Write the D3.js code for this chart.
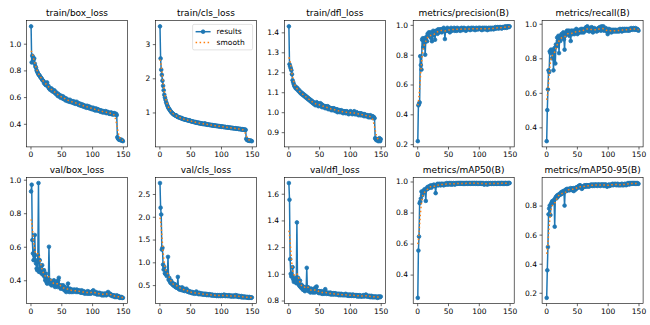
<!DOCTYPE html>
<html>
<head>
<meta charset="utf-8">
<script src="https://cdn.jsdelivr.net/npm/d3@7/dist/d3.min.js"></script>
<style>
  html, body { margin: 0; padding: 0; background: #fff; }
  svg { display: block; }
  text { font-family: "DejaVu Sans", sans-serif; fill: #000; }
</style>
</head>
<body>
<svg id="chart" width="650" height="325"></svg>
<script>
// Training run: 150 epochs, one row per epoch
const epochs = d3.range(1, 151);

const trainBoxLoss = [
  1.13, 0.86, 0.91, 0.90, 0.88, 0.89, 0.85, 0.83, 0.82, 0.80,
  0.79, 0.78, 0.77, 0.765, 0.76, 0.75, 0.745, 0.74, 0.73, 0.725,
  0.72, 0.705, 0.71, 0.695, 0.69, 0.70, 0.71, 0.68, 0.685, 0.665,
  0.67, 0.655, 0.66, 0.665, 0.645, 0.655, 0.64, 0.645, 0.65, 0.63,
  0.625, 0.635, 0.62, 0.61, 0.625, 0.605, 0.615, 0.61, 0.595, 0.61,
  0.60, 0.59, 0.605, 0.585, 0.595, 0.59, 0.575, 0.59, 0.58, 0.57,
  0.58, 0.575, 0.565, 0.58, 0.565, 0.57, 0.56, 0.565, 0.57, 0.555,
  0.555, 0.565, 0.55, 0.555, 0.565, 0.55, 0.545, 0.555, 0.54, 0.545,
  0.55, 0.535, 0.54, 0.545, 0.53, 0.54, 0.535, 0.525, 0.535, 0.53,
  0.52, 0.535, 0.525, 0.52, 0.53, 0.515, 0.525, 0.515, 0.51, 0.52,
  0.51, 0.52, 0.505, 0.51, 0.50, 0.515, 0.505, 0.50, 0.51, 0.50,
  0.505, 0.495, 0.50, 0.49, 0.50, 0.495, 0.485, 0.495, 0.49, 0.485,
  0.49, 0.495, 0.48, 0.485, 0.49, 0.48, 0.485, 0.475, 0.48, 0.475,
  0.485, 0.475, 0.47, 0.48, 0.47, 0.48, 0.475, 0.47, 0.475, 0.465,
  0.30, 0.29, 0.285, 0.28, 0.285, 0.28, 0.275, 0.28, 0.275, 0.27
];

const trainClsLoss = [
  3.52, 2.58, 2.25, 2.10, 1.93, 1.78, 1.65, 1.52, 1.44, 1.37,
  1.30, 1.25, 1.20, 1.16, 1.12, 1.10, 1.07, 1.04, 1.02, 1.00,
  0.98, 0.96, 0.95, 0.93, 0.92, 0.91, 0.92, 0.89, 0.88, 0.87,
  0.86, 0.86, 0.85, 0.84, 0.83, 0.84, 0.82, 0.81, 0.81, 0.80,
  0.80, 0.79, 0.79, 0.78, 0.78, 0.77, 0.77, 0.76, 0.77, 0.75,
  0.75, 0.74, 0.74, 0.73, 0.73, 0.72, 0.72, 0.71, 0.72, 0.70,
  0.70, 0.70, 0.69, 0.70, 0.68, 0.69, 0.68, 0.67, 0.68, 0.67,
  0.66, 0.67, 0.66, 0.68, 0.65, 0.66, 0.65, 0.64, 0.65, 0.64,
  0.64, 0.63, 0.64, 0.63, 0.62, 0.63, 0.62, 0.62, 0.61, 0.62,
  0.61, 0.61, 0.60, 0.61, 0.60, 0.60, 0.59, 0.60, 0.59, 0.59,
  0.58, 0.59, 0.58, 0.58, 0.57, 0.58, 0.57, 0.57, 0.56, 0.57,
  0.56, 0.56, 0.55, 0.56, 0.55, 0.55, 0.54, 0.55, 0.54, 0.54,
  0.54, 0.53, 0.54, 0.53, 0.53, 0.52, 0.53, 0.52, 0.52, 0.51,
  0.52, 0.51, 0.51, 0.50, 0.51, 0.50, 0.50, 0.49, 0.50, 0.49,
  0.23, 0.20, 0.19, 0.18, 0.18, 0.17, 0.18, 0.17, 0.17, 0.16
];

const trainDflLoss = [
  1.43, 1.24, 1.23, 1.22, 1.21, 1.19, 1.16, 1.15, 1.14, 1.13,
  1.13, 1.12, 1.125, 1.115, 1.12, 1.11, 1.105, 1.11, 1.10, 1.095,
  1.10, 1.09, 1.095, 1.085, 1.09, 1.08, 1.085, 1.075, 1.08, 1.07,
  1.075, 1.065, 1.07, 1.06, 1.065, 1.055, 1.06, 1.05, 1.055, 1.045,
  1.05, 1.04, 1.045, 1.035, 1.04, 1.05, 1.035, 1.045, 1.03, 1.04,
  1.035, 1.045, 1.03, 1.04, 1.025, 1.035, 1.03, 1.025, 1.03, 1.02,
  1.03, 1.025, 1.02, 1.03, 1.015, 1.025, 1.02, 1.015, 1.02, 1.01,
  1.02, 1.015, 1.01, 1.02, 1.01, 1.015, 1.005, 1.01, 1.015, 1.00,
  1.01, 1.005, 1.01, 1.00, 1.005, 1.01, 1.00, 1.005, 0.995, 1.005,
  1.00, 1.005, 0.995, 1.00, 1.005, 0.995, 1.00, 0.99, 1.00, 0.995,
  1.005, 0.995, 1.00, 0.99, 1.00, 0.995, 1.005, 0.99, 0.995, 0.99,
  1.00, 0.99, 0.995, 0.985, 0.995, 0.99, 0.985, 0.995, 0.985, 0.99,
  0.985, 0.99, 0.98, 0.99, 0.985, 0.98, 0.985, 0.98, 0.985, 0.975,
  0.98, 0.975, 0.985, 0.975, 0.98, 0.975, 0.98, 0.97, 0.975, 0.97,
  0.87, 0.865, 0.86, 0.865, 0.86, 0.855, 0.86, 0.87, 0.855, 0.865
];

const precision = [
  0.22, 0.46, 0.47, 0.48, 0.79, 0.73, 0.70, 0.90, 0.91, 0.85,
  0.91, 0.88, 0.80, 0.90, 0.92, 0.89, 0.94, 0.93, 0.95, 0.94,
  0.92, 0.95, 0.91, 0.89, 0.94, 0.96, 0.93, 0.95, 0.90, 0.96,
  0.95, 0.96, 0.94, 0.97, 0.96, 0.95, 0.97, 0.96, 0.97, 0.95,
  0.97, 0.96, 0.98, 0.97, 0.905, 0.96, 0.97, 0.96, 0.98, 0.97,
  0.96, 0.97, 0.95, 0.97, 0.98, 0.96, 0.97, 0.965, 0.97, 0.98,
  0.96, 0.975, 0.97, 0.96, 0.98, 0.97, 0.965, 0.975, 0.97, 0.96,
  0.975, 0.98, 0.97, 0.965, 0.975, 0.98, 0.97, 0.975, 0.96, 0.97,
  0.975, 0.97, 0.98, 0.975, 0.97, 0.965, 0.975, 0.98, 0.97, 0.975,
  0.98, 0.97, 0.975, 0.965, 0.975, 0.98, 0.97, 0.975, 0.97, 0.98,
  0.975, 0.98, 0.97, 0.975, 0.965, 0.98, 0.975, 0.97, 0.98, 0.975,
  0.97, 0.98, 0.975, 0.965, 0.975, 0.98, 0.97, 0.975, 0.98, 0.97,
  0.975, 0.98, 0.975, 0.97, 0.98, 0.975, 0.985, 0.975, 0.98, 0.985,
  0.98, 0.975, 0.985, 0.98, 0.985, 0.98, 0.975, 0.985, 0.98, 0.985,
  0.985, 0.98, 0.99, 0.985, 0.98, 0.99, 0.985, 0.99, 0.985, 0.99
];

const recall = [
  0.32, 0.50, 0.62, 0.73, 0.72, 0.84, 0.83, 0.85, 0.84, 0.80,
  0.85, 0.73, 0.84, 0.86, 0.77, 0.88, 0.87, 0.92, 0.90, 0.93,
  0.83, 0.92, 0.90, 0.93, 0.94, 0.92, 0.93, 0.95, 0.91, 0.85,
  0.93, 0.95, 0.94, 0.96, 0.94, 0.95, 0.96, 0.93, 0.95, 0.90,
  0.96, 0.95, 0.94, 0.96, 0.95, 0.94, 0.96, 0.95, 0.97, 0.95,
  0.94, 0.96, 0.95, 0.965, 0.95, 0.96, 0.97, 0.95, 0.96, 0.97,
  0.95, 0.96, 0.97, 0.96, 0.98, 0.975, 0.985, 0.96, 0.97, 0.955,
  0.97, 0.975, 0.96, 0.98, 0.965, 0.95, 0.97, 0.975, 0.96, 0.97,
  0.965, 0.955, 0.97, 0.96, 0.975, 0.965, 0.98, 0.97, 0.96, 0.985,
  0.97, 0.975, 0.985, 0.96, 0.97, 0.965, 0.975, 0.96, 0.955, 0.94,
  0.96, 0.97, 0.955, 0.965, 0.96, 0.95, 0.965, 0.96, 0.955, 0.965,
  0.96, 0.955, 0.965, 0.96, 0.955, 0.96, 0.965, 0.955, 0.96, 0.97,
  0.96, 0.965, 0.955, 0.97, 0.96, 0.965, 0.97, 0.96, 0.965, 0.97,
  0.965, 0.96, 0.97, 0.965, 0.96, 0.97, 0.965, 0.975, 0.97, 0.965,
  0.97, 0.975, 0.97, 0.965, 0.975, 0.97, 0.965, 0.97, 0.965, 0.96
];

const valBoxLoss = [
  0.93, 0.97, 0.64, 0.56, 0.52, 0.55, 0.67, 0.52, 0.50, 0.47,
  0.46, 0.55, 0.98, 0.45, 0.52, 0.47, 0.45, 0.44, 0.49, 0.45,
  0.43, 0.46, 0.42, 0.40, 0.44, 0.39, 0.38, 0.41, 0.39, 0.60,
  0.38, 0.40, 0.39, 0.37, 0.39, 0.38, 0.37, 0.40, 0.38, 0.36,
  0.38, 0.37, 0.39, 0.36, 0.40, 0.415, 0.37, 0.36, 0.35, 0.37,
  0.36, 0.35, 0.37, 0.35, 0.34, 0.36, 0.35, 0.33, 0.34, 0.35,
  0.38, 0.34, 0.33, 0.35, 0.34, 0.33, 0.345, 0.34, 0.33, 0.34,
  0.345, 0.335, 0.34, 0.33, 0.345, 0.34, 0.33, 0.335, 0.34, 0.33,
  0.335, 0.325, 0.34, 0.33, 0.325, 0.335, 0.33, 0.32, 0.33, 0.325,
  0.33, 0.32, 0.335, 0.325, 0.32, 0.33, 0.325, 0.32, 0.33, 0.325,
  0.335, 0.34, 0.33, 0.32, 0.325, 0.33, 0.32, 0.315, 0.325, 0.32,
  0.315, 0.325, 0.32, 0.315, 0.32, 0.31, 0.32, 0.315, 0.31, 0.32,
  0.315, 0.32, 0.31, 0.315, 0.325, 0.33, 0.32, 0.315, 0.32, 0.31,
  0.315, 0.31, 0.305, 0.31, 0.305, 0.31, 0.30, 0.305, 0.30, 0.31,
  0.305, 0.30, 0.305, 0.30, 0.295, 0.30, 0.295, 0.30, 0.295, 0.295
];

const valClsLoss = [
  2.74, 2.20, 2.05, 1.28, 1.32, 0.95, 0.84, 0.90, 0.76, 0.74,
  0.80, 0.70, 0.72, 1.12, 0.62, 0.66, 0.58, 0.55, 0.60, 0.53,
  0.55, 0.50, 0.53, 0.48, 0.52, 0.46, 0.45, 0.49, 0.44, 0.68,
  0.42, 0.45, 0.40, 0.44, 0.41, 0.39, 0.45, 0.40, 0.38, 0.42,
  0.37, 0.40, 0.38, 0.42, 0.36, 0.38, 0.35, 0.37, 0.34, 0.36,
  0.34, 0.33, 0.35, 0.32, 0.34, 0.33, 0.31, 0.33, 0.32, 0.36,
  0.34, 0.31, 0.32, 0.30, 0.33, 0.31, 0.30, 0.32, 0.30, 0.31,
  0.29, 0.31, 0.30, 0.29, 0.31, 0.30, 0.28, 0.30, 0.29, 0.28,
  0.30, 0.29, 0.28, 0.29, 0.27, 0.29, 0.28, 0.27, 0.28, 0.27,
  0.28, 0.27, 0.26, 0.28, 0.27, 0.26, 0.28, 0.27, 0.26, 0.27,
  0.28, 0.26, 0.27, 0.28, 0.29, 0.27, 0.26, 0.28, 0.27, 0.26,
  0.27, 0.26, 0.28, 0.26, 0.27, 0.25, 0.26, 0.27, 0.25, 0.26,
  0.27, 0.25, 0.26, 0.28, 0.26, 0.25, 0.27, 0.25, 0.24, 0.26,
  0.25, 0.24, 0.26, 0.23, 0.25, 0.24, 0.23, 0.25, 0.24, 0.23,
  0.24, 0.23, 0.24, 0.22, 0.23, 0.24, 0.22, 0.23, 0.22, 0.23
];

const valDflLoss = [
  1.68, 1.555, 1.11, 1.00, 0.98, 0.99, 1.05, 0.96, 0.94, 0.95,
  0.97, 0.94, 0.93, 1.385, 0.93, 0.97, 0.92, 0.91, 0.95, 0.90,
  0.92, 0.89, 0.91, 0.88, 0.90, 0.89, 0.87, 0.90, 0.88, 1.045,
  0.88, 0.90, 0.87, 0.89, 0.88, 0.86, 0.89, 0.87, 0.88, 0.86,
  0.87, 0.89, 0.86, 0.88, 0.90, 0.905, 0.87, 0.86, 0.87, 0.855,
  0.87, 0.86, 0.855, 0.87, 0.85, 0.86, 0.865, 0.85, 0.86, 0.885,
  0.86, 0.85, 0.855, 0.86, 0.85, 0.855, 0.85, 0.86, 0.845, 0.855,
  0.85, 0.845, 0.855, 0.85, 0.845, 0.855, 0.85, 0.845, 0.85, 0.845,
  0.85, 0.84, 0.85, 0.845, 0.84, 0.85, 0.845, 0.84, 0.845, 0.84,
  0.845, 0.84, 0.85, 0.84, 0.845, 0.84, 0.835, 0.845, 0.84, 0.835,
  0.845, 0.84, 0.835, 0.84, 0.845, 0.835, 0.84, 0.835, 0.84, 0.835,
  0.84, 0.83, 0.84, 0.835, 0.83, 0.84, 0.835, 0.83, 0.835, 0.83,
  0.835, 0.84, 0.83, 0.835, 0.84, 0.845, 0.83, 0.835, 0.83, 0.835,
  0.83, 0.835, 0.825, 0.83, 0.835, 0.825, 0.83, 0.825, 0.83, 0.825,
  0.83, 0.825, 0.83, 0.825, 0.82, 0.83, 0.825, 0.83, 0.825, 0.83
];

const mAP50 = [
  0.25, 0.555, 0.645, 0.86, 0.87, 0.89, 0.935, 0.91, 0.925, 0.94,
  0.93, 0.95, 0.94, 0.875, 0.955, 0.95, 0.965, 0.955, 0.96, 0.97,
  0.965, 0.975, 0.96, 0.97, 0.975, 0.97, 0.98, 0.975, 0.97, 0.925,
  0.975, 0.98, 0.985, 0.975, 0.98, 0.985, 0.98, 0.975, 0.985, 0.98,
  0.985, 0.98, 0.975, 0.985, 0.98, 0.985, 0.98, 0.99, 0.985, 0.98,
  0.985, 0.99, 0.985, 0.98, 0.99, 0.985, 0.98, 0.985, 0.99, 0.985,
  0.98, 0.985, 0.99, 0.985, 0.99, 0.985, 0.99, 0.985, 0.99, 0.99,
  0.985, 0.99, 0.985, 0.99, 0.985, 0.99, 0.985, 0.99, 0.985, 0.99,
  0.99, 0.985, 0.99, 0.985, 0.99, 0.99, 0.985, 0.99, 0.985, 0.99,
  0.99, 0.985, 0.99, 0.99, 0.985, 0.99, 0.99, 0.985, 0.99, 0.985,
  0.99, 0.985, 0.99, 0.985, 0.99, 0.985, 0.99, 0.985, 0.98, 0.985,
  0.985, 0.99, 0.985, 0.98, 0.985, 0.99, 0.985, 0.985, 0.99, 0.985,
  0.985, 0.99, 0.985, 0.985, 0.99, 0.985, 0.99, 0.985, 0.985, 0.99,
  0.985, 0.99, 0.985, 0.99, 0.985, 0.99, 0.99, 0.985, 0.99, 0.985,
  0.99, 0.985, 0.99, 0.99, 0.985, 0.99, 0.985, 0.99, 0.99, 0.99
];

const mAP5095 = [
  0.165, 0.355, 0.515, 0.74, 0.78, 0.80, 0.735, 0.81, 0.82, 0.83,
  0.82, 0.83, 0.84, 0.655, 0.85, 0.86, 0.85, 0.87, 0.86, 0.875,
  0.87, 0.88, 0.875, 0.89, 0.88, 0.895, 0.885, 0.90, 0.89, 0.80,
  0.905, 0.91, 0.90, 0.915, 0.905, 0.91, 0.915, 0.905, 0.91, 0.92,
  0.91, 0.915, 0.905, 0.92, 0.90, 0.915, 0.92, 0.91, 0.925, 0.92,
  0.925, 0.93, 0.935, 0.925, 0.94, 0.935, 0.93, 0.915, 0.92, 0.93,
  0.935, 0.93, 0.94, 0.935, 0.93, 0.94, 0.935, 0.94, 0.93, 0.935,
  0.94, 0.935, 0.945, 0.94, 0.935, 0.945, 0.94, 0.935, 0.945, 0.94,
  0.945, 0.94, 0.935, 0.945, 0.94, 0.945, 0.94, 0.935, 0.945, 0.94,
  0.945, 0.94, 0.945, 0.935, 0.945, 0.94, 0.945, 0.94, 0.93, 0.935,
  0.94, 0.945, 0.935, 0.94, 0.945, 0.94, 0.945, 0.95, 0.94, 0.945,
  0.945, 0.95, 0.945, 0.94, 0.945, 0.95, 0.94, 0.945, 0.94, 0.945,
  0.94, 0.945, 0.95, 0.94, 0.945, 0.94, 0.945, 0.95, 0.945, 0.94,
  0.945, 0.95, 0.955, 0.95, 0.945, 0.955, 0.95, 0.955, 0.95, 0.955,
  0.95, 0.955, 0.95, 0.955, 0.95, 0.955, 0.95, 0.955, 0.95, 0.95
];

const titles = [
  "train/box_loss", "train/cls_loss", "train/dfl_loss", "metrics/precision(B)", "metrics/recall(B)",
  "val/box_loss", "val/cls_loss", "val/dfl_loss", "metrics/mAP50(B)", "metrics/mAP50-95(B)"
];
const seriesList = [
  trainBoxLoss, trainClsLoss, trainDflLoss, precision, recall,
  valBoxLoss, valClsLoss, valDflLoss, mAP50, mAP5095
];
const xTicks = [0, 50, 100, 150];
const yTicks = [
  [0.4, 0.6, 0.8, 1.0],
  [1, 2, 3],
  [0.9, 1.0, 1.1, 1.2, 1.3, 1.4],
  [0.2, 0.4, 0.6, 0.8, 1.0],
  [0.4, 0.6, 0.8, 1.0],
  [0.4, 0.6, 0.8, 1.0],
  [0.5, 1.0, 1.5, 2.0, 2.5],
  [0.8, 1.0, 1.2, 1.4, 1.6],
  [0.4, 0.6, 0.8, 1.0],
  [0.2, 0.4, 0.6, 0.8]
];
const legendLabels = ["results", "smooth"];

// 1-D gaussian filter (sigma 3, truncate 4, half-sample reflect at edges)
function gaussianFilter1d(values, sigma) {
  const radius = Math.round(4 * sigma);
  const w = d3.range(-radius, radius + 1).map(k => Math.exp(-0.5 * k * k / (sigma * sigma)));
  const wsum = d3.sum(w);
  const n = values.length;
  const idx = j => {
    while (j < 0 || j >= n) {
      if (j < 0) j = -j - 1;
      if (j >= n) j = 2 * n - j - 1;
    }
    return j;
  };
  return values.map((_, i) => {
    let s = 0;
    for (let k = -radius; k <= radius; k++) s += w[k + radius] * values[idx(i + k)];
    return s / wsum;
  });
}

const svg = d3.select("#chart");
const C0 = "#1f77b4", C1 = "#ff7f0e";

const axW = 101, axH = 126.3;
const colX = i => 26.5 + i * 128.9;
const rowY = r => [20.6, 177.3][r];

const tickLen = 2.6;
const markerR = 1.85;

seriesList.forEach((ys, p) => {
  const col = p % 5, row = Math.floor(p / 5);
  const x0 = colX(col), y0 = rowY(row);
  const g = svg.append("g").attr("transform", `translate(${x0},${y0})`);

  const smooth = gaussianFilter1d(ys, 3);
  const lo = Math.min(d3.min(ys), d3.min(smooth));
  const hi = Math.max(d3.max(ys), d3.max(smooth));
  const padY = (hi - lo) * 0.05;
  const x1 = d3.min(epochs), x2 = d3.max(epochs);
  const padX = (x2 - x1) * 0.05;

  const x = d3.scaleLinear().domain([x1 - padX, x2 + padX]).range([0, axW]);
  const y = d3.scaleLinear().domain([lo - padY, hi + padY]).range([axH, 0]);

  const clipId = "clip" + p;
  g.append("clipPath").attr("id", clipId)
    .append("rect").attr("width", axW).attr("height", axH);

  const plot = g.append("g").attr("clip-path", `url(#${clipId})`);

  const line = d3.line().x((d, i) => x(epochs[i])).y(d => y(d));

  plot.append("path").datum(ys)
    .attr("d", line)
    .attr("fill", "none").attr("stroke", C0)
    .attr("stroke-width", 1.5).attr("stroke-linejoin", "round");

  plot.selectAll("circle.pt").data(ys).join("circle")
    .attr("class", "pt")
    .attr("cx", (d, i) => x(epochs[i])).attr("cy", d => y(d))
    .attr("r", markerR)
    .attr("fill", C0).attr("stroke", C0).attr("stroke-width", 0.8);

  plot.append("path").datum(smooth)
    .attr("d", line)
    .attr("fill", "none").attr("stroke", C1)
    .attr("stroke-width", 1.5).attr("stroke-dasharray", "1.5 2.5");

  // axes
  const decimals = yTicks[p].every(v => Number.isInteger(v)) ? 0 : 1;
  const yAxis = d3.axisLeft(y).tickValues(yTicks[p])
    .tickFormat(d3.format(`.${decimals}f`))
    .tickSize(tickLen).tickPadding(2.6).tickSizeOuter(0);
  const xAxis = d3.axisBottom(x).tickValues(xTicks)
    .tickFormat(d3.format("d"))
    .tickSize(tickLen).tickPadding(2.6).tickSizeOuter(0);

  const ya = g.append("g").call(yAxis);
  const xa = g.append("g").attr("transform", `translate(0,${axH})`).call(xAxis);
  [ya, xa].forEach(a => {
    a.attr("font-family", "DejaVu Sans, sans-serif").attr("font-size", 7.5);
    a.select(".domain").remove();
    a.selectAll(".tick line").attr("stroke", "#000").attr("stroke-width", 0.6);
    a.selectAll(".tick text").attr("fill", "#000");
  });

  // frame
  g.append("rect").attr("width", axW).attr("height", axH)
    .attr("fill", "none").attr("stroke", "#000").attr("stroke-width", 0.6);

  // title
  g.append("text").attr("x", axW / 2).attr("y", -4.6)
    .attr("text-anchor", "middle").attr("font-size", 9)
    .text(titles[p]);

  // legend on the second panel
  if (p === 1) {
    const lg = g.append("g").attr("transform", `translate(${axW - 3.8 - 60},${3.8})`);
    lg.append("rect").attr("width", 60).attr("height", 25.5).attr("rx", 1.5)
      .attr("fill", "#fff").attr("fill-opacity", 0.8)
      .attr("stroke", "#ccc").attr("stroke-width", 0.6);
    const rowsY = [7.3, 18.2];
    lg.append("line").attr("x1", 3).attr("x2", 18).attr("y1", rowsY[0]).attr("y2", rowsY[0])
      .attr("stroke", C0).attr("stroke-width", 1.5);
    lg.append("circle").attr("cx", 10.5).attr("cy", rowsY[0]).attr("r", markerR)
      .attr("fill", C0).attr("stroke", C0).attr("stroke-width", 0.8);
    lg.append("line").attr("x1", 3).attr("x2", 18).attr("y1", rowsY[1]).attr("y2", rowsY[1])
      .attr("stroke", C1).attr("stroke-width", 1.5).attr("stroke-dasharray", "1.5 2.5");
    legendLabels.forEach((t, i) => {
      lg.append("text").attr("x", 24).attr("y", rowsY[i]).attr("dy", "0.35em")
        .attr("font-size", 7.5).text(t);
    });
  }
});
</script>
</body>
</html>
